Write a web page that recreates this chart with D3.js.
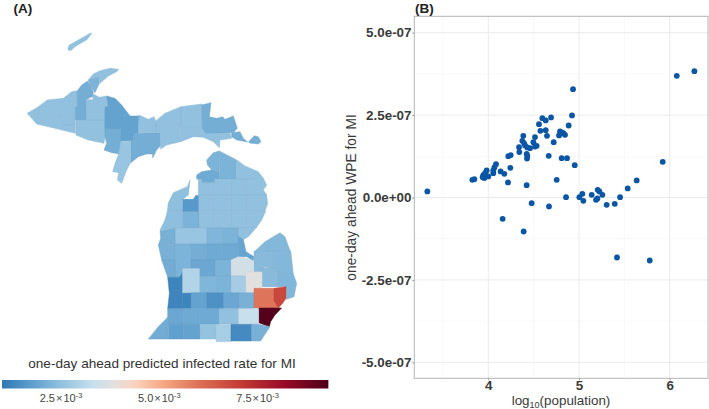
<!DOCTYPE html>
<html><head><meta charset="utf-8">
<style>html,body{margin:0;padding:0;background:#fff}svg{display:block;font-family:"Liberation Sans",Arial,sans-serif}</style>
<script src="https://cdn.jsdelivr.net/npm/d3@7"></script></head>
<body><div id="chart"></div>
<script>
// Panel B: log10(population), WPE in units of 1e-7
const logPop = [4.934,4.923,4.886,4.692,4.596,4.633,4.559,4.574,4.633,4.647,4.791,4.809,4.780,4.828,4.846,4.721,4.515,4.497,4.386,4.375,4.394,4.405,4.430,4.460,4.515,4.533,4.339,4.342,4.423,4.430,4.427,4.221,4.247,4.666,4.809,4.868,4.953,4.085,4.067,4.055,4.055,3.982,3.964,3.945,3.956,4.000,3.938,4.136,4.177,4.243,3.824,3.846,4.217,4.423,4.754,4.857,4.478,4.669,5.004,5.037,5.048,3.328,5.140,5.188,5.206,5.225,5.258,5.203,5.453,5.537,5.636,5.923,6.078,6.272,5.305,5.394,4.158,4.390,5.419,5.780];
const wpe = [3.288,2.489,2.185,2.428,2.408,2.337,2.226,2.024,2.044,1.872,2.003,1.973,1.882,1.953,1.902,1.680,1.832,1.680,1.872,1.720,1.650,1.579,1.518,1.498,1.548,1.569,1.528,1.377,1.326,1.265,1.184,1.255,1.286,1.265,1.194,1.194,0.982,1.012,0.911,0.820,0.739,0.820,0.739,0.679,0.588,0.638,0.618,0.790,0.719,0.901,0.537,0.557,0.456,0.375,0.537,0.011,-0.171,-0.272,0.011,0.112,-0.100,0.183,0.082,-0.070,0.234,0.183,0.082,-0.029,0.011,0.274,0.517,1.083,3.692,3.834,-0.221,-0.191,-0.646,-1.031,-1.820,-1.911];
const xTicks = [4,5,6];
const xMinor = [3.5,4.5,5.5];
const yTicks = [-5,-2.5,0,2.5,5];
const yMinor = [-3.75,-1.25,1.25,3.75];
const yTickLabels = ["-5.0e-07","-2.5e-07","0.0e+00","2.5e-07","5.0e-07"];

// Panel A: colour ramp of the rate (units of 1e-3)
const rampValues = [1.0,1.71,2.47,3.29,3.87,4.38,5.15,6.04,7.05,8.2,9.34];
const rampColors = ["#3079b5","#5a9ccc","#8fc0de","#c5dfee","#e3e0de","#fbd3bd","#f4a582","#dc6e55","#c33c35","#960a27","#4d001a"];
const legendTicks = [2.5,5.0,7.5];
const legendLabels = ["2.5","5.0","7.5"];

// Upper peninsula counties: rate + outline in survey grid units
const upRates = [2.5,2.5,2.5,2.1,2.5,2.5,1.85,2.1,2.6,2.1,2.5,2.5,2.5,2.5,2.5,2.1,2.1,2.1,2.2];
const upRings = [
 [[204,145],[208,135],[235,120],[272,99],[275,100],[262,118],[225,140],[212,152],[205,150]],
 [[82,340],[115,320],[142,300],[190,295],[215,275],[232,272],[232,320],[226,322],[226,375],[190,375],[186,348],[150,346],[136,332]],
 [[82,340],[136,332],[150,346],[186,348],[190,375],[226,375],[226,400],[165,385],[110,372]],
 [[232,272],[245,255],[263,243],[270,256],[280,275],[278,290],[260,297],[258,322],[258,360],[226,360],[226,322],[232,320]],
 [[228,360],[315,360],[315,410],[312,430],[265,420],[228,405]],
 [[258,297],[278,300],[280,282],[298,292],[320,288],[325,320],[315,322],[315,360],[258,360]],
 [[320,288],[345,295],[365,315],[390,348],[417,348],[415,400],[402,400],[400,422],[363,423],[363,388],[315,386],[315,322],[325,320]],
 [[315,386],[363,388],[363,423],[358,462],[335,458],[312,450],[320,430],[315,410]],
 [[363,425],[392,423],[392,488],[380,510],[365,550],[352,540],[356,518],[338,515],[345,490],[355,465]],
 [[402,400],[480,398],[482,437],[470,450],[458,474],[458,462],[440,462],[415,470],[393,488],[393,423],[400,422]],
 [[417,345],[445,358],[462,350],[468,365],[468,398],[415,398]],
 [[468,378],[542,375],[542,425],[500,435],[482,447],[480,398],[468,398]],
 [[468,362],[495,340],[543,320],[543,347],[543,375],[468,378]],
 [[543,385],[618,385],[618,400],[690,400],[695,415],[660,420],[658,443],[640,425],[610,412],[580,410],[542,425]],
 [[543,320],[605,312],[607,385],[543,385]],
 [[605,315],[633,308],[628,350],[650,355],[668,350],[675,358],[700,348],[712,385],[700,398],[618,400],[607,385]],
 [[695,398],[720,395],[730,415],[743,426],[710,420],[695,410]],
 [[746,425],[763,407],[775,410],[783,425],[775,432],[748,429]],
 [[265,240],[296,232],[298,250],[285,278],[270,256]]
];
// Keweenaw tip
const upRateTip = 2.5;
const upRingTip = [[265,240],[280,222],[300,212],[330,205],[355,208],[352,214],[325,228],[300,250],[296,232]];

// Lower peninsula counties
const lpRates = [2.2,2.2,2.0,2.5,2.5,2.5,2.5,2.5,2.5,2.5,2.5,2.5,2.5,2.5,2.45,2.2,1.65,2.45,2.45,2.5,2.5,2.6,2.15,2.6,2.5,2.25,2.2,1.9,2.15,2.0,2.2,2.1,2.0,1.95,2.05,2.2,2.25,2.2,1.25,1.25,3.0,1.85,2.35,2.3,3.55,3.85,2.8,2.35,2.3,2.25,2.15,1.95,5.95,6.8,9.2,1.5,1.95,2.0,2.0,2.5,3.35,1.8,1.85,2.05,2.55,2.85,1.35,2.15];
const lpRings = [
 [[358,33],[340,38],[320,60],[322,75],[335,90],[357,100]],
 [[358,33],[410,60],[408,117],[358,117]],
 [[290,105],[305,95],[335,90],[357,100],[357,128],[306,128],[306,117],[290,117]],
 [[410,60],[435,78],[475,95],[490,115],[442,117],[408,117]],
 [[442,117],[490,115],[500,135],[490,150],[500,165],[442,165]],
 [[392,117],[442,117],[442,165],[392,165]],
 [[343,117],[392,117],[392,165],[343,165]],
 [[306,128],[343,128],[343,117],[343,165],[295,165],[295,117],[306,117]],
 [[392,165],[442,165],[442,214],[392,214]],
 [[442,165],[500,165],[503,190],[495,214],[442,214]],
 [[343,165],[392,165],[392,214],[343,214]],
 [[295,165],[343,165],[343,214],[295,214]],
 [[392,214],[442,214],[442,264],[392,264]],
 [[442,214],[497,214],[485,240],[470,262],[442,264]],
 [[270,120],[265,165],[245,180],[205,188],[220,158],[262,140]],
 [[247,214],[297,214],[297,264],[247,264]],
 [[248,178],[280,178],[288,165],[295,168],[295,214],[247,214]],
 [[205,188],[247,180],[247,214],[202,214]],
 [[202,214],[247,214],[247,264],[225,264],[180,270],[195,240]],
 [[297,214],[343,214],[343,264],[297,264]],
 [[343,214],[392,214],[392,264],[343,264]],
 [[225,264],[272,264],[272,312],[225,312]],
 [[180,272],[225,264],[225,312],[175,315],[182,295]],
 [[272,264],[320,264],[320,312],[272,312]],
 [[415,264],[470,262],[445,290],[432,298],[415,290]],
 [[320,264],[368,264],[368,312],[320,312]],
 [[368,264],[415,264],[415,312],[368,312]],
 [[415,290],[430,298],[438,335],[462,350],[460,362],[440,350],[415,350]],
 [[175,315],[225,312],[225,360],[185,360]],
 [[368,312],[415,312],[415,350],[393,360],[368,360]],
 [[225,312],[272,312],[272,386],[248,386],[248,398],[238,412],[225,412]],
 [[272,312],[320,312],[320,360],[272,360]],
 [[320,312],[368,312],[368,360],[320,360]],
 [[272,360],[345,360],[345,410],[298,410],[298,386],[272,386]],
 [[185,360],[225,360],[225,412],[203,412]],
 [[345,360],[393,360],[393,408],[345,408]],
 [[298,410],[347,410],[347,458],[298,458]],
 [[347,408],[393,408],[393,458],[347,458]],
 [[203,412],[238,412],[248,398],[248,460],[248,506],[203,506],[208,460]],
 [[248,458],[273,458],[273,506],[248,506]],
 [[248,386],[298,386],[298,458],[248,458]],
 [[273,458],[320,458],[320,506],[273,506]],
 [[462,335],[520,332],[520,385],[492,382],[487,395],[462,395]],
 [[462,336],[495,305],[540,278],[555,290],[570,332],[520,332]],
 [[393,360],[415,350],[440,355],[460,362],[460,408],[393,408]],
 [[437,396],[485,396],[485,456],[437,456]],
 [[393,408],[437,408],[437,458],[393,458]],
 [[487,385],[520,383],[533,385],[533,440],[487,440]],
 [[520,332],[572,332],[580,402],[533,403],[533,385],[520,383]],
 [[533,403],[580,402],[590,430],[582,470],[560,478],[558,440],[533,440]],
 [[418,458],[462,458],[462,506],[418,506]],
 [[370,458],[418,458],[418,506],[370,506]],
 [[462,445],[522,445],[522,482],[535,504],[462,504]],
 [[522,445],[558,440],[558,475],[548,490],[535,504],[522,482]],
 [[476,504],[545,504],[525,525],[512,545],[508,560],[476,548]],
 [[320,458],[370,458],[370,506],[320,506]],
 [[203,506],[250,506],[250,553],[203,553]],
 [[250,506],[298,506],[298,553],[250,553]],
 [[298,506],[358,506],[358,553],[298,553]],
 [[358,506],[416,506],[416,553],[358,553]],
 [[416,506],[476,506],[476,553],[416,553]],
 [[205,553],[250,553],[250,597],[205,597]],
 [[250,553],[300,553],[300,597],[250,597]],
 [[203,532],[205,597],[145,597],[175,560]],
 [[300,553],[348,553],[348,597],[300,597]],
 [[348,555],[393,555],[393,605],[348,605]],
 [[393,553],[455,553],[455,603],[393,603]],
 [[455,553],[476,553],[510,560],[490,590],[482,603],[455,603]]
];

const W=709,H=409;
const svg=d3.select("#chart").append("svg").attr("width",W).attr("height",H);
const color=d3.scaleLinear().domain(rampValues).range(rampColors).clamp(true);

// --- Map
const upX=d3.scaleLinear().domain([0,1020]).range([0,340]);
const upY=d3.scaleLinear().domain([0,600]).range([0,200]);
const lpX=d3.scaleLinear().domain([0,720]).range([100,340]);
const lpY=d3.scaleLinear().domain([0,630]).range([140,350]);
const upLine=d3.line().x(d=>upX(d[0])).y(d=>upY(d[1])).curve(d3.curveLinearClosed);
const lpLine=d3.line().x(d=>lpX(d[0])).y(d=>lpY(d[1])).curve(d3.curveLinearClosed);
const gm=svg.append("g");
function drawCounties(rings,rates,line){
  gm.append("g").selectAll("path").data(rings).join("path")
    .attr("d",line).attr("fill",(d,i)=>color(rates[i]))
    .attr("stroke",(d,i)=>d3.color(color(rates[i])).darker(0.18)).attr("stroke-width",0.45).attr("stroke-linejoin","round");
}
drawCounties([upRingTip],[upRateTip],upLine);
drawCounties(upRings,upRates,upLine);
drawCounties(lpRings,lpRates,lpLine);

svg.append("text").attr("x",13.5).attr("y",13).attr("font-size",13.5).attr("font-weight","bold").attr("fill","#222").text("(A)");
svg.append("text").attr("x",162).attr("y",368).attr("text-anchor","middle").attr("font-size",13.6).attr("fill","#333").text("one-day ahead predicted infected rate for MI");

// --- Legend
const legX=d3.scaleLinear().domain([2.5,7.5]).range([61,257.6]);
const legMin=rampValues[0],legMax=9.3;
const defs=svg.append("defs");
const grad=defs.append("linearGradient").attr("id","ramp").attr("x1","0%").attr("x2","100%");
rampValues.forEach((v,i)=>grad.append("stop").attr("offset",((v-legMin)/(legMax-legMin)*100)+"%").attr("stop-color",rampColors[i]));
svg.append("rect").attr("x",legX(legMin)).attr("y",380).attr("width",legX(legMax)-legX(legMin)).attr("height",8.5).attr("fill","url(#ramp)");
legendTicks.forEach((v,i)=>{
  const t=svg.append("text").attr("x",legX(v)).attr("y",402).attr("text-anchor","middle").attr("font-size",11).attr("fill","#444");
  t.append("tspan").text(legendLabels[i]);
  t.append("tspan").attr("dx",1).text("\u00d7");
  t.append("tspan").attr("dx",1).text("10");
  t.append("tspan").attr("font-size",7.5).attr("dy",-4).text("-3");
});

// --- Scatter
const x=d3.scaleLinear().domain([4,6]).range([488.3,669.7]);
const y=d3.scaleLinear().domain([-5,5]).range([362.3,32.7]);
const pL=414.3,pR=708,pT=16.3,pB=378.3;
const g=svg.append("g");
const gridMinor="#f3f3f3",gridMajor="#ebebeb";
g.selectAll(".xm").data(xMinor).join("line").attr("x1",d=>x(d)).attr("x2",d=>x(d)).attr("y1",pT).attr("y2",pB).attr("stroke",gridMinor).attr("stroke-width",0.6);
g.selectAll(".ym").data(yMinor).join("line").attr("y1",d=>y(d)).attr("y2",d=>y(d)).attr("x1",pL).attr("x2",pR).attr("stroke",gridMinor).attr("stroke-width",0.6);
g.selectAll(".xM").data(xTicks).join("line").attr("x1",d=>x(d)).attr("x2",d=>x(d)).attr("y1",pT).attr("y2",pB).attr("stroke",gridMajor).attr("stroke-width",1);
g.selectAll(".yM").data(yTicks).join("line").attr("y1",d=>y(d)).attr("y2",d=>y(d)).attr("x1",pL).attr("x2",pR).attr("stroke",gridMajor).attr("stroke-width",1);
g.selectAll("circle").data(logPop).join("circle").attr("cx",d=>x(d)).attr("cy",(d,i)=>y(wpe[i])).attr("r",2.9).attr("fill","#0b56a4");
g.append("rect").attr("x",pL).attr("y",pT).attr("width",pR-pL).attr("height",pB-pT).attr("fill","none").attr("stroke","#b4b4b4").attr("stroke-width",1);

const ax=svg.append("g").attr("transform",`translate(0,${pB})`).call(d3.axisBottom(x).tickValues(xTicks).tickFormat(d3.format("d")).tickSize(2).tickPadding(0));
ax.select(".domain").remove();
ax.selectAll("line").attr("stroke","#999");
ax.selectAll("text").attr("font-family","'Liberation Sans',Arial,sans-serif").attr("font-size",13.4).attr("font-weight","bold").attr("fill","#3a3a3a");
const ay=svg.append("g").attr("transform",`translate(${pL},0)`).call(d3.axisLeft(y).tickValues(yTicks).tickFormat((d,i)=>yTickLabels[i]).tickSize(2).tickPadding(0.8));
ay.select(".domain").remove();
ay.selectAll("line").attr("stroke","#999");
ay.selectAll("text").attr("font-family","'Liberation Sans',Arial,sans-serif").attr("font-size",13.4).attr("font-weight","bold").attr("fill","#3a3a3a");

svg.append("text").attr("x",415).attr("y",12.5).attr("font-size",13.5).attr("font-weight","bold").attr("fill","#222").text("(B)");
const xt=svg.append("text").attr("x",561).attr("y",405).attr("text-anchor","middle").attr("font-size",13.4).attr("fill","#3a3a3a");
xt.append("tspan").text("log");
xt.append("tspan").attr("font-size",9).attr("dy",2.5).text("10");
xt.append("tspan").attr("dy",-2.5).text("(population)");
svg.append("text").attr("transform","translate(355.5,197.5) rotate(-90)").attr("text-anchor","middle").attr("font-size",13.8).attr("fill","#3a3a3a").text("one-day ahead WPE for MI");
</script></body></html>
